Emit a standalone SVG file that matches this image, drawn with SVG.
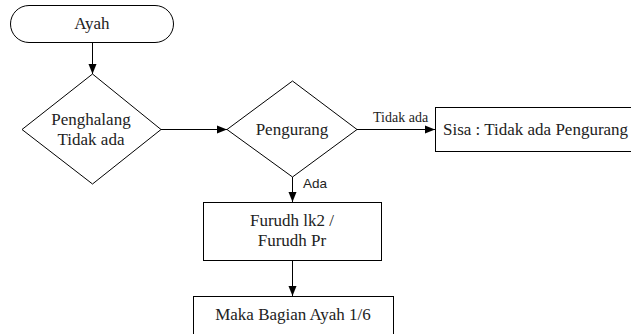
<svg xmlns="http://www.w3.org/2000/svg" width="631" height="334" viewBox="0 0 631 334">
<style>
.shape{fill:#fff;stroke:#000;stroke-width:1}
.t{font-family:"Liberation Serif","Times New Roman",serif;font-size:17px;fill:#222;text-anchor:middle}
.lbl{font-family:"Liberation Serif","Times New Roman",serif;font-size:14px;fill:#222}
.lbls{font-family:"Liberation Sans",Arial,sans-serif;font-size:13.5px;fill:#222}
.conn{fill:none;stroke:#000;stroke-width:1}
</style>
<defs>
<marker id="arr" markerWidth="10" markerHeight="10" refX="10" refY="5" orient="auto" markerUnits="userSpaceOnUse">
<path d="M0,1 L10,5 L0,9 Z" fill="#000"/>
</marker>
</defs>
<rect width="631" height="334" fill="#fff"/>
<g id="connectors">
<line class="conn" x1="92.5" y1="42" x2="92.5" y2="74" marker-end="url(#arr)"/>
<line class="conn" x1="161" y1="129.5" x2="227" y2="129.5" marker-end="url(#arr)"/>
<line class="conn" x1="357" y1="129.5" x2="435" y2="129.5" marker-end="url(#arr)"/>
<line class="conn" x1="292.5" y1="177" x2="292.5" y2="202" marker-end="url(#arr)"/>
<line class="conn" x1="292.5" y1="260" x2="292.5" y2="296" marker-end="url(#arr)"/>
<text class="lbl" x="373" y="122">Tidak ada</text>
<text class="lbls" x="303" y="188">Ada</text>
</g>
<g id="ayah">
<rect class="shape" x="10.5" y="5.5" width="163" height="37" rx="18.5" ry="18.5"/>
<text class="t" x="92" y="29">Ayah</text>
</g>
<g id="penghalang">
<polygon class="shape" points="92.5,74 161,129.5 92.5,184 22,129.5"/>
<text class="t" x="91" y="125">Penghalang</text>
<text class="t" x="91" y="145">Tidak ada</text>
</g>
<g id="pengurang">
<polygon class="shape" points="292.5,81 357,129.5 292.5,177 227,129.5"/>
<text class="t" x="292" y="135">Pengurang</text>
</g>
<g id="sisa">
<rect class="shape" x="435.5" y="107.5" width="210" height="44"/>
<text class="t" x="443" y="135" style="text-anchor:start">Sisa : Tidak ada Pengurang</text>
</g>
<g id="furudh">
<rect class="shape" x="203.5" y="202.5" width="178" height="58"/>
<text class="t" x="292" y="226">Furudh lk2 /</text>
<text class="t" x="292" y="246">Furudh Pr</text>
</g>
<g id="maka">
<rect class="shape" x="193.5" y="296.5" width="200" height="50"/>
<text class="t" x="293" y="320">Maka Bagian Ayah 1/6</text>
</g>
</svg>
